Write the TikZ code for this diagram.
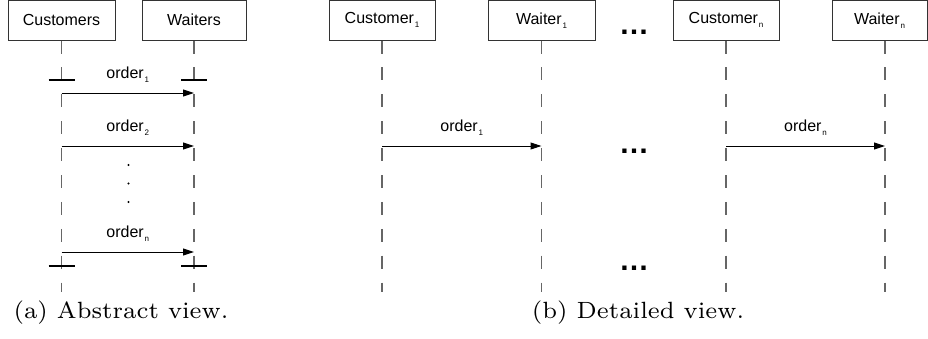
\documentclass[tikz,border=0pt]{standalone}
\usepackage{fontspec}
\newfontfamily\labfont{Liberation Sans}
\newfontfamily\capfont[Extension=.otf]{lmroman7-regular}
\usetikzlibrary{arrows.meta,calc}
% small lowered index used in the sans labels
\newcommand\lowsub[1]{\kern0.8pt\raisebox{-4pt}{\fontsize{8}{8}\selectfont#1}}

\begin{document}
\begin{tikzpicture}[x=1pt,y=-1pt,
  box/.style={draw=black!80, line width=1pt, minimum height=39.5pt, inner sep=0pt,
              font=\labfont\fontsize{16}{19}\selectfont},
  life/.style={draw=black!60, line width=1.3pt, dash pattern=on 13pt off 13.9pt},
  msg/.style={draw=black, line width=1pt, -{Triangle[length=11pt,width=7pt]}},
  actbar/.style={draw=black, line width=2.5pt},
  lbl/.style={font=\labfont\fontsize{16}{19}\selectfont, anchor=base, inner sep=0pt},
  captext/.style={font=\capfont\fontsize{23.5}{28}\selectfont, anchor=base, inner sep=0pt},
  more/.style={font=\labfont\bfseries\fontsize{30}{30}\selectfont, anchor=base, inner sep=0pt},
]
\useasboundingbox (0,0) rectangle (928,338);

% ---------- (a) abstract view ----------
\node[box, minimum width=107pt] (cs) at (61.5,20.25) {Customers};
\node[box, minimum width=104pt] (wt) at (194,20.25) {Waiters};

\coordinate (bot) at (0,292);
\draw[life] (cs.south) -- (cs.south |- bot);
\draw[life] (wt.south) -- (wt.south |- bot);

% activation bars
\coordinate (b1) at (0,80);
\coordinate (b2) at (0,266);
\foreach \ll in {cs,wt}{
  \draw[actbar] ($(\ll.south |- b1)+(-13,0)$) -- ($(\ll.south |- b1)+(13,0)$);
  \draw[actbar] ($(\ll.south |- b2)+(-13,0)$) -- ($(\ll.south |- b2)+(13,0)$);
}

% messages
\coordinate (m1) at (0,93);
\coordinate (m2) at (0,146);
\coordinate (mn) at (0,252);
\draw[msg] (cs.south |- m1) -- (wt.south |- m1);
\draw[msg] (cs.south |- m2) -- (wt.south |- m2);
\draw[msg] (cs.south |- mn) -- (wt.south |- mn);
\node[lbl] (o1) at ($(cs.south |- m1)!0.5!(wt.south |- m1)+(0,-15)$) {order\lowsub{1}};
\node[lbl] (o2) at ($(cs.south |- m2)!0.5!(wt.south |- m2)+(0,-15)$) {order\lowsub{2}};
\node[lbl] (on) at ($(cs.south |- mn)!0.5!(wt.south |- mn)+(0,-15)$) {order\lowsub{n}};

% vertical dots between the messages
\foreach \yy in {165,183.5,202}
  \fill (128.5,\yy) circle (1.1);

\node[captext] (capa) at (121,318) {(a) Abstract view.};

% ---------- (b) detailed view ----------
\node[box, minimum width=106pt] (c1) at (382,20.25) {Customer\lowsub{1}};
\node[box, minimum width=107pt] (w1) at (541.5,20.25) {Waiter\lowsub{1}};
\node[box, minimum width=106pt] (cn) at (726,20.25) {Customer\lowsub{n}};
\node[box, minimum width=95pt]  (wn) at (879.5,20.25) {Waiter\lowsub{n}};

\coordinate (wnx) at (885,0);
\draw[life] (c1.south) -- (c1.south |- bot);
\draw[life] (w1.south) -- (w1.south |- bot);
\draw[life] (cn.south) -- (cn.south |- bot);
\draw[life] (wn.south -| wnx) -- (wnx |- bot);

\draw[msg] (c1.south |- m2) -- (w1.south |- m2);
\draw[msg] (cn.south |- m2) -- (wnx |- m2);
\node[lbl] (d1) at ($(c1.south |- m2)!0.5!(w1.south |- m2)+(0,-15)$) {order\lowsub{1}};
\node[lbl] (dn) at ($(cn.south |- m2)!0.5!(wnx |- m2)+(0,-15)$) {order\lowsub{n}};

\node[more] (e1) at (634,34) {…};
\node[more] (e2) at (634,153) {…};
\node[more] (e3) at (634,270) {…};

\node[captext] (capb) at (638,318) {(b) Detailed view.};
\end{tikzpicture}
\end{document}
